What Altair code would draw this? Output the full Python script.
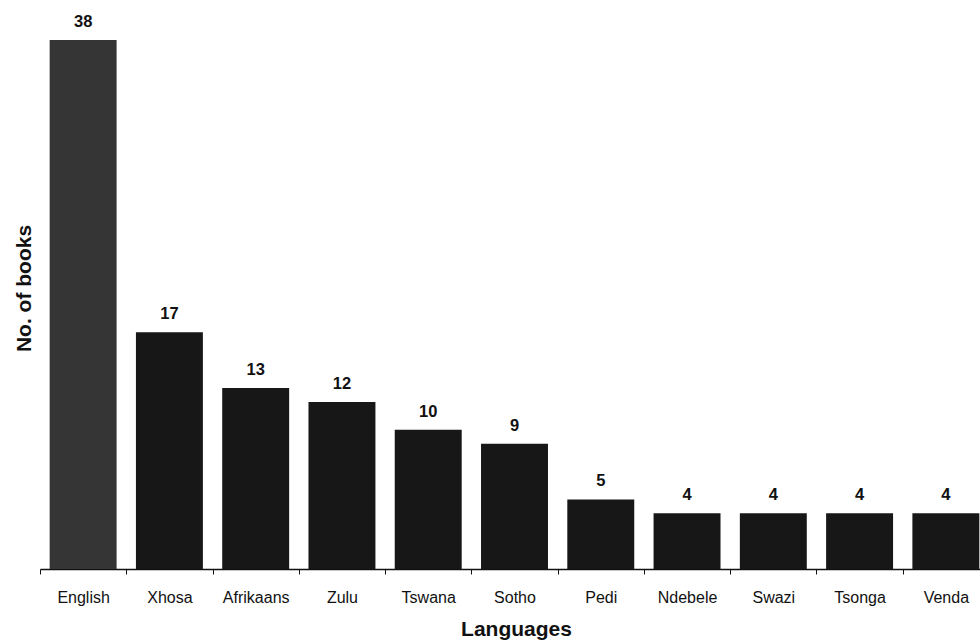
import altair as alt
import pandas as pd

languages = ["English", "Xhosa", "Afrikaans", "Zulu", "Tswana", "Sotho",
             "Pedi", "Ndebele", "Swazi", "Tsonga", "Venda"]
books = [38, 17, 13, 12, 10, 9, 5, 4, 4, 4, 4]

df = pd.DataFrame({"Language": languages, "Books": books})

FONT = "Liberation Sans"

x = alt.X(
    "Language:N",
    sort=languages,
    scale=alt.Scale(range=[0, 949], paddingInner=0, paddingOuter=0),
    axis=alt.Axis(
        title="Languages",
        titleFont=FONT, titleFontSize=21, titleFontWeight="bold", titleColor="#111",
        titleX=476, titleY=66, titleBaseline="alphabetic", titleAnchor="start", titleAlign="center",
        labelFont=FONT, labelFontSize=16, labelColor="#111", labelAngle=0,
        labelBaseline="alphabetic", labelPadding=28,
        tickBand="extent", tickSize=5, tickColor="#111", tickWidth=1,
        domainColor="#111", domainWidth=1.5, grid=False,
    ),
)
y = alt.Y(
    "Books:Q",
    scale=alt.Scale(domain=[0, 38], nice=False, zero=True),
    axis=alt.Axis(
        title="No. of books",
        titleFont=FONT, titleFontSize=21, titleFontWeight="bold", titleColor="#111",
        titleX=-10, titleY=248, titleAngle=270, titleBaseline="alphabetic", titleAlign="center",
        labels=False, ticks=False, domain=False, grid=False,
    ),
)

bars = alt.Chart(df).mark_bar(width=alt.RelativeBandSize(0.776)).encode(
    x=x,
    y=y,
    color=alt.condition(alt.datum.Language == "English",
                        alt.value("#353535"), alt.value("#171717")),
)

labels = alt.Chart(df).mark_text(
    font=FONT, fontSize=16.5, fontWeight="bold", color="#111",
    baseline="alphabetic", dy=-13,
).encode(
    x=alt.X("Language:N", sort=languages),
    y="Books:Q",
    text="Books:Q",
)

chart = alt.layer(bars, labels).properties(
    width=940, height=529,
    autosize=alt.AutoSizeParams(type="none"),
    padding={"left": 40, "top": 40, "right": 0, "bottom": 74},
    background="white",
).configure_view(stroke=None)

chart.save("out.html", embed_options={"renderer": "svg", "actions": False})
